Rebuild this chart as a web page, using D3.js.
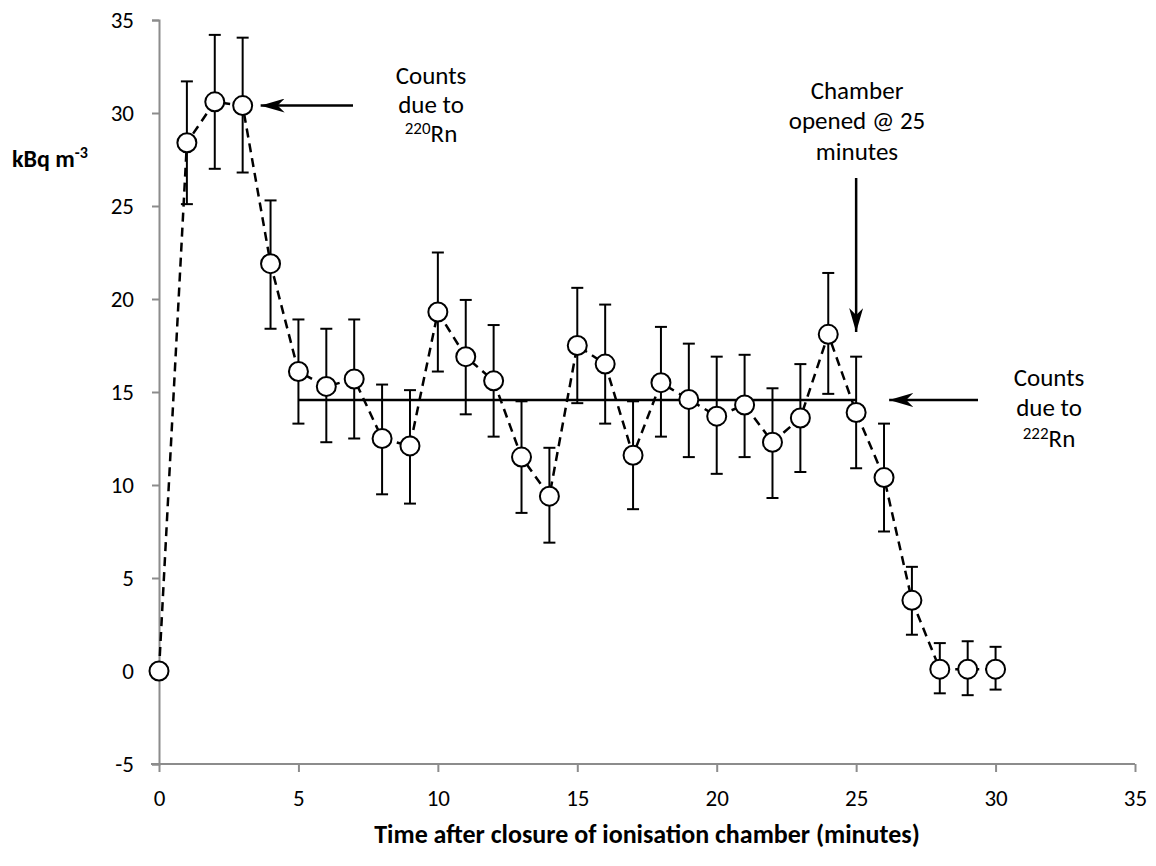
<!DOCTYPE html>
<html>
<head>
<meta charset="utf-8">
<script src="https://cdn.jsdelivr.net/npm/d3@7"></script>
<style>
  html, body { margin: 0; padding: 0; background: #fff; }
  svg { display: block; }
  text { font-family: Carlito, Lato, "Liberation Sans", sans-serif; fill: #000; }
</style>
</head>
<body>
<svg id="chart" width="1156" height="866"></svg>
<script>
// ---- Data ----
const minutes = [0,1,2,3,4,5,6,7,8,9,10,11,12,13,14,15,16,17,18,19,20,21,22,23,24,25,26,27,28,29,30];
const activity = [0,28.4,30.6,30.4,21.9,16.1,15.3,15.7,12.5,12.1,19.3,16.9,15.6,11.5,9.4,17.5,16.5,11.6,15.5,14.6,13.7,14.3,12.3,13.6,18.1,13.9,10.4,3.8,0.1,0.1,0.1];
const errHigh = [0,31.7,34.2,34.05,25.3,18.9,18.4,18.9,15.4,15.1,22.5,19.95,18.6,14.5,12.0,20.6,19.7,14.5,18.5,17.6,16.9,17.0,15.2,16.5,21.4,16.9,13.3,5.6,1.5,1.6,1.3];
const errLow = [0,25.1,27.0,26.8,18.4,13.3,12.3,12.5,9.5,9.0,16.1,13.8,12.6,8.5,6.9,14.4,13.3,8.7,12.6,11.5,10.6,11.5,9.3,10.7,14.9,10.9,7.5,1.95,-1.2,-1.3,-1.0];
const radonMeanX = [5, 25];
const radonMeanY = [14.57, 14.57];
const xTicks = [0,5,10,15,20,25,30,35];
const yTicks = [-5,0,5,10,15,20,25,30,35];

// ---- Layout ----
const svg = d3.select("#chart");
const x = d3.scaleLinear().domain([0, 35]).range([159, 1135]);
const y = d3.scaleLinear().domain([-5, 35]).range([764, 20]);
const axisColor = "#8c8c8c";

// defs: stealth arrowhead
const defs = svg.append("defs");
defs.append("marker")
  .attr("id", "stealth")
  .attr("viewBox", "0 0 24 14")
  .attr("refX", 24).attr("refY", 7)
  .attr("markerUnits", "userSpaceOnUse")
  .attr("markerWidth", 24).attr("markerHeight", 14)
  .attr("orient", "auto")
  .append("path")
  .attr("d", "M0,0 L24,7 L0,14 L7,7 Z")
  .attr("fill", "#000");

// ---- Axes ----
const fmt = d => String(d);
const yAxis = svg.append("g").attr("transform", `translate(${x(0)},0)`)
  .call(d3.axisLeft(y).tickValues(yTicks).tickSize(7).tickPadding(18).tickFormat(fmt));
const xAxis = svg.append("g").attr("transform", `translate(0,${y(-5)})`)
  .call(d3.axisBottom(x).tickValues(xTicks).tickSize(8).tickPadding(18).tickFormat(fmt));
[xAxis, yAxis].forEach(g => {
  g.select(".domain").attr("stroke", axisColor).attr("stroke-width", 2);
  g.selectAll(".tick line").attr("stroke", axisColor).attr("stroke-width", 2);
  g.selectAll(".tick text").style("font-size", "23px").attr("fill", "#000");
});
xAxis.select(".domain").attr("d", `M${x(0)-8},0H${x(35)}`);

// ---- Axis titles ----
svg.append("text")
  .attr("x", (x(0) + x(35)) / 2).attr("y", 843)
  .attr("text-anchor", "middle")
  .style("font-size", "26px").style("font-weight", "bold")
  .text("Time after closure of ionisation chamber (minutes)");

const yl = svg.append("text").attr("x", 12).attr("y", 167)
  .style("font-size", "24px").style("font-weight", "bold");
yl.append("tspan").text("kBq m");
yl.append("tspan").attr("dy", -9).style("font-size", "16px").text("-3");

// ---- Mean line (222Rn level) ----
svg.append("line")
  .attr("x1", x(radonMeanX[0])).attr("x2", x(radonMeanX[1]))
  .attr("y1", y(radonMeanY[0])).attr("y2", y(radonMeanY[1]))
  .attr("stroke", "#000").attr("stroke-width", 2.5);

// ---- Dashed connecting line ----
const pts = minutes.map((m, i) => ({ m, v: activity[i], hi: errHigh[i], lo: errLow[i] }));
svg.append("path")
  .datum(pts)
  .attr("d", d3.line().x(d => x(d.m)).y(d => y(d.v)))
  .attr("fill", "none").attr("stroke", "#000")
  .attr("stroke-width", 2.5).attr("stroke-dasharray", "9,6");

// ---- Error bars ----
const eb = svg.append("g").attr("stroke", "#000").attr("stroke-width", 2);
const ebData = pts.filter(d => d.hi !== d.lo);
eb.selectAll("line.v").data(ebData).join("line").attr("class", "v")
  .attr("x1", d => x(d.m)).attr("x2", d => x(d.m))
  .attr("y1", d => y(d.hi)).attr("y2", d => y(d.lo));
eb.selectAll("line.t").data(ebData).join("line").attr("class", "t")
  .attr("x1", d => x(d.m) - 6).attr("x2", d => x(d.m) + 6)
  .attr("y1", d => y(d.hi)).attr("y2", d => y(d.hi));
eb.selectAll("line.b").data(ebData).join("line").attr("class", "b")
  .attr("x1", d => x(d.m) - 6).attr("x2", d => x(d.m) + 6)
  .attr("y1", d => y(d.lo)).attr("y2", d => y(d.lo));

// ---- Markers ----
svg.append("g").selectAll("circle").data(pts).join("circle")
  .attr("cx", d => x(d.m)).attr("cy", d => y(d.v)).attr("r", 9.5)
  .attr("fill", "#fff").attr("stroke", "#000").attr("stroke-width", 2);

// ---- Annotations ----
function annot(cx, lines) {
  lines.forEach(l => {
    const t = svg.append("text").attr("x", cx).attr("y", l.y)
      .attr("text-anchor", "middle").style("font-size", "25px");
    if (l.sup) {
      t.append("tspan").attr("dy", -8).style("font-size", "17px").text(l.sup);
      t.append("tspan").attr("dy", 8).text(l.text);
    } else {
      t.text(l.text);
    }
  });
}
annot(431, [{ y: 84, text: "Counts" }, { y: 113, text: "due to" }, { y: 142, sup: "220", text: "Rn" }]);
annot(857, [{ y: 99, text: "Chamber" }, { y: 129, text: "opened @ 25" }, { y: 160, text: "minutes" }]);
annot(1049, [{ y: 386, text: "Counts" }, { y: 416, text: "due to" }, { y: 447, sup: "222", text: "Rn" }]);

// ---- Arrows ----
function arrow(x1, y1, x2, y2) {
  svg.append("line").attr("x1", x1).attr("y1", y1).attr("x2", x2).attr("y2", y2)
    .attr("stroke", "#000").attr("stroke-width", 2.5).attr("marker-end", "url(#stealth)");
}
arrow(353, y(30.4), x(3) + 18, y(30.4));
arrow(x(25), 178, x(25), 332);
arrow(978, 400, x(25) + 33, 400);
</script>
</body>
</html>
